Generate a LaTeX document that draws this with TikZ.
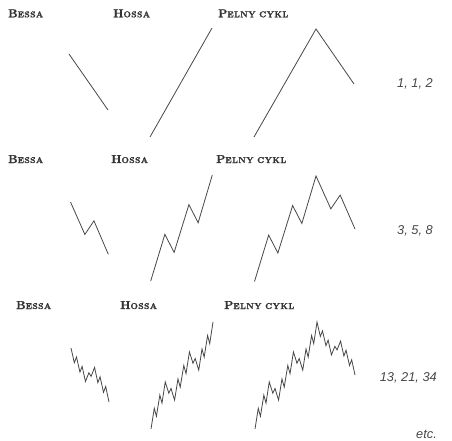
\documentclass[tikz,border=0pt]{standalone}
\usepackage{fontspec}
\newfontfamily\numfont{Liberation Sans}
\newfontfamily\lblfont{lmroman10-bold.otf}[FakeBold=1.2,LetterSpace=4]
\newcommand\smc[2]{#1{\fontsize{8.5}{9}\selectfont #2}}
\newcommand\wvI[5]{%
  \ifnum#1=0
    \xdef\wavepath{\wavepath -- (#4,#5)}%
  \else
    \begingroup
    \pgfmathsetmacro\wvdx{#4-(#2)}%
    \pgfmathsetmacro\wvdy{#5-(#3)}%
    \pgfmathsetmacro\wvax{#2+0.23*\wvdx}\pgfmathsetmacro\wvay{#3+0.44*\wvdy}%
    \pgfmathsetmacro\wvbx{#2+0.38*\wvdx}\pgfmathsetmacro\wvby{#3+0.27*\wvdy}%
    \pgfmathsetmacro\wvcx{#2+0.62*\wvdx}\pgfmathsetmacro\wvcy{#3+0.72*\wvdy}%
    \pgfmathsetmacro\wvex{#2+0.77*\wvdx}\pgfmathsetmacro\wvey{#3+0.55*\wvdy}%
    \pgfmathtruncatemacro\wvdep{#1-1}%
    \edef\wvnext{\noexpand\wvI{\wvdep}{#2}{#3}{\wvax}{\wvay}%
      \noexpand\wvC{\wvdep}{\wvax}{\wvay}{\wvbx}{\wvby}%
      \noexpand\wvI{\wvdep}{\wvbx}{\wvby}{\wvcx}{\wvcy}%
      \noexpand\wvC{\wvdep}{\wvcx}{\wvcy}{\wvex}{\wvey}%
      \noexpand\wvI{\wvdep}{\wvex}{\wvey}{#4}{#5}}%
    \expandafter\endgroup\wvnext
  \fi}
\newcommand\wvC[5]{%
  \ifnum#1=0
    \xdef\wavepath{\wavepath -- (#4,#5)}%
  \else
    \begingroup
    \pgfmathsetmacro\wvdx{#4-(#2)}%
    \pgfmathsetmacro\wvdy{#5-(#3)}%
    \pgfmathsetmacro\wvax{#2+0.38*\wvdx}\pgfmathsetmacro\wvay{#3+0.62*\wvdy}%
    \pgfmathsetmacro\wvbx{#2+0.62*\wvdx}\pgfmathsetmacro\wvby{#3+0.36*\wvdy}%
    \pgfmathtruncatemacro\wvdep{#1-1}%
    \edef\wvnext{\noexpand\wvI{\wvdep}{#2}{#3}{\wvax}{\wvay}%
      \noexpand\wvC{\wvdep}{\wvax}{\wvay}{\wvbx}{\wvby}%
      \noexpand\wvI{\wvdep}{\wvbx}{\wvby}{#4}{#5}}%
    \expandafter\endgroup\wvnext
  \fi}
\newcommand\drawwave{\edef\wvcmd{\noexpand\draw[wave] \wavepath;}\wvcmd}
\begin{document}
\begin{tikzpicture}[x=1pt,y=-1pt,
  wave/.style={draw=black!72, line width=0.8pt, line join=miter},
  lbl/.style={anchor=base west, inner sep=0pt, text=black!80, font=\lblfont\fontsize{11.5}{13}\selectfont},
  num/.style={anchor=base east, inner sep=0pt, text=black!72, font=\numfont\itshape\fontsize{12.8}{14}\selectfont}]
\fill[white] (0,0) rectangle (452,441);
\useasboundingbox (0,0) rectangle (452,441);
% row 1
\node[lbl] (b1) at (8,17.3) {\smc{B}{ESSA}};
\node[lbl] (h1) at (113,17.3) {\smc{H}{OSSA}};
\node[lbl] (p1) at (218,17.3) {\smc{P}{ELNY CYKL}};
\gdef\wavepath{(69,54)}\wvC{0}{69}{54}{108}{110}\drawwave
\gdef\wavepath{(150,137)}\wvI{0}{150}{137}{212}{28}\drawwave
\gdef\wavepath{(254,137)}\wvI{0}{254}{137}{316}{29}\wvC{0}{316}{29}{354}{84}\drawwave
\node[num] (n1) at (433,87.5) {1, 1, 2};
% row 2
\node[lbl] (b2) at (8,163) {\smc{B}{ESSA}};
\node[lbl] (h2) at (111,163) {\smc{H}{OSSA}};
\node[lbl] (p2) at (216,163) {\smc{P}{ELNY CYKL}};
\gdef\wavepath{(70.5,202)}\wvC{1}{70.5}{202}{108.3}{254.3}\drawwave
\gdef\wavepath{(150.7,281)}\wvI{1}{150.7}{281}{212.3}{175}\drawwave
\gdef\wavepath{(254.5,281.5)}\wvI{1}{254.5}{281.5}{316}{176}\wvC{1}{316}{176}{355}{229}\drawwave
\node[num] (n2) at (433,234) {3, 5, 8};
% row 3
\node[lbl] (b3) at (16,309) {\smc{B}{ESSA}};
\node[lbl] (h3) at (120,309) {\smc{H}{OSSA}};
\node[lbl] (p3) at (224,309) {\smc{P}{ELNY CYKL}};
\gdef\wavepath{(71,348)}\wvC{2}{71}{348}{109}{402}\drawwave
\gdef\wavepath{(151,429)}\wvI{2}{151}{429}{213}{322}\drawwave
\gdef\wavepath{(255,429)}\wvI{2}{255}{429}{317}{322}\wvC{2}{317}{322}{355}{375}\drawwave
\node[num] (n3) at (437,381) {13, 21, 34};
\node[num] (n4) at (437,438) {etc.};
\end{tikzpicture}
\end{document}
